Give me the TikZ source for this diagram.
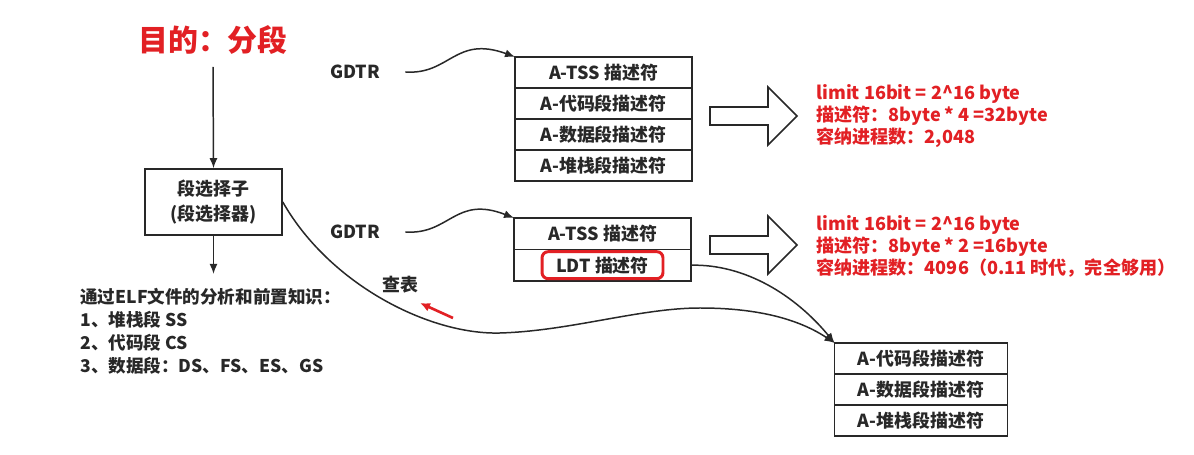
\documentclass[tikz,border=0pt]{standalone}
\usepackage{fontspec}
\setmainfont{Noto Sans CJK SC}
\usetikzlibrary{positioning,arrows.meta}
\definecolor{segred}{RGB}{226,32,36}
\definecolor{ink}{RGB}{40,40,40}
\tikzset{
	desc/.style = {draw = ink, line width = 0.9pt, minimum width = 3.54cm, minimum height = 0.62cm,
		inner sep = 0pt, outer sep = 0pt, text = ink, font = \fontsize{10.2}{12}\selectfont\bfseries},
	lbl/.style = {text = ink, font = \fontsize{10.2}{12}\selectfont\bfseries},
	note/.style = {text = segred, align = left, anchor = west, inner sep = 0pt,
		font = \fontsize{10.3}{12.5}\selectfont\bfseries},
	arr/.style = {draw = ink, line width = 0.85pt, -{Latex[length=2mm,width=1.6mm]}}
}
\begin{document}
\begin{tikzpicture}[x = 0.02cm, y = -0.02cm]
		
		\useasboundingbox[fill = white] (0,0) rectangle (1194,455);
		
		% title and selector
		\node[text = segred, font = \fontsize{17}{20}\selectfont\bfseries] (title) at (213,40) {目的：分段};
		\coordinate (start) at (213,67);
		\node[draw = ink, line width = 0.9pt, minimum width = 2.74cm, minimum height = 1.32cm, align = center,
			text = ink, font = \fontsize{10.2}{14}\selectfont\bfseries] (sel) at (213.5,202) {段选择子\\(段选择器)};
		\node[text = ink, align = left, anchor = north west, inner sep = 0pt,
			font = \fontsize{10}{13}\selectfont\bfseries] (info) at (80,288)
			{通过ELF文件的分析和前置知识：\\1、堆栈段 SS\\2、代码段 CS\\3、数据段：DS、FS、ES、GS};
		
		\draw[arr] (start) -- (sel.north);
		\draw[arr] (sel.south) -- ([yshift = 8pt]sel.south |- info.north);
		
		% first GDT
		\node[lbl] (gdtr1) at (355,72) {GDTR};
		\node[desc] (t1) at (603.5,72.4) {A-TSS 描述符};
		\node[desc, below = 0pt of t1] (t2) {A-代码段描述符};
		\node[desc, below = 0pt of t2] (t3) {A-数据段描述符};
		\node[desc, below = 0pt of t3] (t4) {A-堆栈段描述符};
		
		\draw[arr] ([xshift = 11pt]gdtr1.east) .. controls (450,75) and (455,35) .. (t1.north west);
		
		% second GDT
		\node[lbl] (gdtr2) at (355,232) {GDTR};
		\node[desc, minimum height = 0.63cm] (g1) at (602.5,233.7) {A-TSS 描述符};
		\node[desc, minimum height = 0.63cm, below = 0pt of g1] (g2) {};
		\node[draw = segred, line width = 1.7pt, rounded corners = 3.5pt, minimum width = 2.42cm,
			minimum height = 0.54cm, inner sep = 0pt, text = ink, font = \fontsize{10.2}{12}\selectfont\bfseries]
			(ldt) at (g2.center) {LDT 描述符};
		
		\draw[arr] ([xshift = 11pt]gdtr2.east) .. controls (450,235) and (455,195) .. (g1.north west);
		
		% LDT
		\node[desc, minimum width = 3.46cm] (b1) at (921,358.4) {A-代码段描述符};
		\node[desc, minimum width = 3.46cm, below = 0pt of b1] (b2) {A-数据段描述符};
		\node[desc, minimum width = 3.46cm, below = 0pt of b2] (b3) {A-堆栈段描述符};
		
		\draw[arr] (g2.east) .. controls (745,264) and (795,295) .. (b1.north west);
		\draw[arr] (sel.east) .. controls (330,285) and (430,335) .. (500,333)
			.. controls (570,331) and (640,308) .. (700,308)
			.. controls (760,308) and (800,320) .. (b1.north west);
		
		\node[lbl] (lookup) at (400,285) {查表};
		\coordinate (hint) at (453,318);
		\draw[segred, line width = 1.5pt, -{Latex[length=2mm,width=1.8mm]}] (hint) -- (420,303);
		
		% hollow arrows
		\draw[ink, line width = 0.9pt] (710,107) -- (768,107) -- (768,87) -- (797,116) -- (768,145) -- (768,125) -- (710,125) -- cycle;
		\draw[ink, line width = 0.9pt, yshift = -2.58cm] (710,107) -- (768,107) -- (768,87) -- (797,116) -- (768,145) -- (768,125) -- (710,125) -- cycle;
		
		% notes
		\node[note] (n1) at (816,116) {limit 16bit = 2\^{}16 byte\\描述符：8byte * 4 =32byte\\容纳进程数：2,048};
		\node[note] (n2) at (816,246) {limit 16bit = 2\^{}16 byte\\描述符：8byte * 2 =16byte\\容纳进程数：4096（0.11 时代，完全够用）};
		
	\end{tikzpicture}
\end{document}
